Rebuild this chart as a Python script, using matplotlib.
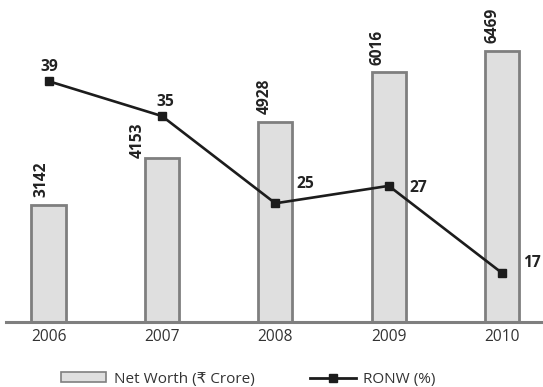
import matplotlib
matplotlib.use("Agg")
import matplotlib.pyplot as plt
from matplotlib.lines import Line2D
from matplotlib.patches import Patch

plt.rcParams['font.family'] = ['Open Sans', 'DejaVu Sans']

years = ['2006', '2007', '2008', '2009', '2010']
net_worth = [3142, 4153, 4928, 6016, 6469]
ronw = [39, 35, 25, 27, 17]

# label offsets in pixels (dx, dy) relative to bar top / marker
bar_label_offsets = [(-7, 8), (-24, 0), (-11, 8), (-11, 7), (-10, 8)]
line_label_offsets = [(1, 6), (3, 6), (30, 11), (30, -10), (30, 2)]

fig = plt.figure(figsize=(5.43, 3.87), dpi=100)
ax = fig.add_axes([0.011, 0.168, 0.989, 0.832])
x = list(range(len(years)))

bar_fill = '#dfdfdf'
bar_edge = '#7f7f7f'
ax.bar(x, net_worth, width=0.30, color=bar_fill, edgecolor=bar_edge,
       linewidth=2, bottom=0, zorder=2)
ax.set_ylim(601, 7568)
ax.set_xlim(-0.375, 4.36)

for xi, v, (dx, dy) in zip(x, net_worth, bar_label_offsets):
    ax.annotate(str(v), (xi, v), xytext=(dx, dy), textcoords='offset pixels',
                rotation=90, ha='center', va='bottom', fontsize=11.2,
                fontweight='bold', color='#222222', zorder=5)

ax2 = ax.twinx()
ax2.set_ylim(11.4, 48.3)
ax2.plot(x, ronw, color='#1c1c1c', linewidth=1.9, marker='s', markersize=5.8,
         zorder=4)
for xi, v, (dx, dy) in zip(x, ronw, line_label_offsets):
    ax2.annotate(str(v), (xi, v), xytext=(dx, dy), textcoords='offset pixels',
                 ha='center', va='bottom', fontsize=11.2, fontweight='bold',
                 color='#222222', zorder=5)

for a in (ax, ax2):
    for s in ('top', 'right', 'left'):
        a.spines[s].set_visible(False)
    a.set_yticks([])
ax.spines['bottom'].set_visible(True)
ax.spines['bottom'].set_color('#7f7f7f')
ax.spines['bottom'].set_linewidth(2.2)
ax2.spines['bottom'].set_visible(False)

ax.set_xticks(x)
ax.set_xticklabels(years, fontsize=11.2, color='#333333')
ax.tick_params(axis='x', length=0, pad=5)

handles = [
    Patch(facecolor=bar_fill, edgecolor=bar_edge, linewidth=1.2,
          label='Net Worth (₹ Crore)'),
    Line2D([0], [0], color='#1c1c1c', linewidth=2, marker='s', markersize=6,
           label='RONW (%)'),
]
fig.legend(handles=handles, loc='center', bbox_to_anchor=(0.457, 0.02),
           ncol=2, frameon=False, fontsize=11, handlelength=3.0,
           handleheight=0.65, columnspacing=3.6, handletextpad=0.5,
           labelcolor='#333333')

fig.savefig('out.png', dpi=100)
